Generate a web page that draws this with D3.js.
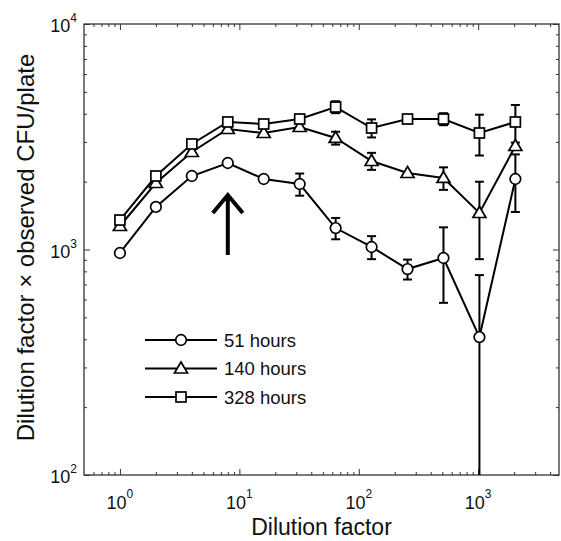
<!DOCTYPE html>
<html lang="en">
<head>
<meta charset="utf-8">
<title>Dilution factor vs CFU</title>
<script src="https://d3js.org/d3.v7.min.js"></script>
<style>
    body { margin: 0; background: #fff; }
    svg { display: block; }
    text { font-family: 'Liberation Sans', Arial, sans-serif; fill: #111; }
</style>
</head>
<body>
<svg id="chart"></svg>
<script>
    // data
    const dilution = [1, 2, 4, 8, 16, 32, 64, 128, 256, 512, 1024, 2048];
    const cfu51  = [965, 1544, 2118, 2419, 2054, 1952, 1245, 1026, 819, 917, 409, 2054];
    const sem51  = [0, 0, 0, 0, 0, 220, 135, 120, 83, 337, 361, 587];
    const cfu140 = [1271, 1972, 2706, 3422, 3286, 3493, 3123, 2469, 2184, 2076, 1452, 2877];
    const sem140 = [0, 0, 0, 0, 0, 0, 205, 214, 0, 238, 546, 0];
    const cfu328 = [1351, 2118, 2937, 3677, 3602, 3790, 4283, 3458, 3790, 3790, 3286, 3677];
    const sem328 = [0, 0, 0, 0, 0, 0, 260, 318, 0, 232, 675, 697];
    const seriesNames = ['51 hours', '140 hours', '328 hours'];
    const seriesShapes = ['circle', 'triangle', 'square'];

    const xTickExps = [0, 1, 2, 3];
    const yTickExps = [2, 3, 4];
    const arrowAt = { x: 8, from: 945, to: 1762 };

    const WIDTH = 561, HEIGHT = 541;
    const LEFT = 84, RIGHT = 559, TOP = 24, BOTTOM = 475;

    const svg = d3.select('#chart').attr('width', WIDTH).attr('height', HEIGHT);

    const x = d3.scaleLog().domain([0.5, 4750]).range([LEFT, RIGHT]);
    const y = d3.scaleLog().domain([100, 10000]).range([BOTTOM, TOP]);

    // tick values on a log axis
    const xMajor = xTickExps.map(e => Math.pow(10, e));
    const yMajor = yTickExps.map(e => Math.pow(10, e));
    function minorTicks(scale) {
        const [a, b] = scale.domain();
        const out = [];
        for (let k = -2; k <= 4; k++) {
            for (let m = 2; m <= 9; m++) {
                const v = m * Math.pow(10, k);
                if (v > a && v < b) out.push(v);
            }
        }
        return out;
    }

    const axes = svg.append('g').attr('class', 'axes');
    function addAxis(axisFn, scale, vals, size, tx, ty) {
        axes.append('g')
            .attr('transform', `translate(${tx},${ty})`)
            .call(axisFn(scale).tickValues(vals).tickSize(-size).tickSizeOuter(0).tickFormat(''))
            .call(g => g.select('.domain').remove())
            .call(g => g.selectAll('.tick line').attr('stroke', '#333').attr('stroke-width', 1));
    }
    addAxis(d3.axisBottom, x, xMajor, 6, 0, BOTTOM);
    addAxis(d3.axisBottom, x, minorTicks(x), 3, 0, BOTTOM);
    addAxis(d3.axisTop, x, xMajor, 6, 0, TOP);
    addAxis(d3.axisTop, x, minorTicks(x), 3, 0, TOP);
    addAxis(d3.axisLeft, y, yMajor, 6, LEFT, 0);
    addAxis(d3.axisLeft, y, minorTicks(y), 3, LEFT, 0);
    addAxis(d3.axisRight, y, yMajor, 6, RIGHT, 0);
    addAxis(d3.axisRight, y, minorTicks(y), 3, RIGHT, 0);

    axes.append('rect')
        .attr('x', LEFT).attr('y', TOP)
        .attr('width', RIGHT - LEFT).attr('height', BOTTOM - TOP)
        .attr('fill', 'none').attr('stroke', '#333').attr('stroke-width', 1.3);

    // tick labels 10^n
    xTickExps.forEach(e => {
        const t = axes.append('text')
            .attr('x', x(Math.pow(10, e))).attr('y', BOTTOM + 34)
            .attr('text-anchor', 'middle').style('font-size', '18px');
        t.append('tspan').text('10');
        t.append('tspan').attr('dy', -11).style('font-size', '12px').text(e);
    });
    yTickExps.forEach(e => {
        const t = axes.append('text')
            .attr('x', LEFT - 7).attr('y', y(Math.pow(10, e)) + 8)
            .attr('text-anchor', 'end').style('font-size', '18px');
        t.append('tspan').text('10');
        t.append('tspan').attr('dy', -10).style('font-size', '12px').text(e);
    });

    // axis titles
    svg.append('text')
        .attr('x', (LEFT + RIGHT) / 2).attr('y', 535)
        .attr('text-anchor', 'middle').style('font-size', '23px')
        .text('Dilution factor');
    svg.append('text')
        .attr('transform', `translate(34,${(TOP + BOTTOM) / 2 - 2}) rotate(-90)`)
        .attr('text-anchor', 'middle').style('font-size', '24px')
        .text('Dilution factor \u00d7 observed CFU/plate');

    // plot area
    svg.append('clipPath').attr('id', 'clip')
        .append('rect').attr('x', LEFT).attr('y', TOP)
        .attr('width', RIGHT - LEFT).attr('height', BOTTOM - TOP);
    const plot = svg.append('g').attr('clip-path', 'url(#clip)');

    const series = [cfu51, cfu140, cfu328].map((vals, i) => ({
        name: seriesNames[i],
        shape: seriesShapes[i],
        points: dilution.map((d, j) => ({ d: d, v: vals[j], e: [sem51, sem140, sem328][i][j] }))
    }));

    function marker(sel, shape) {
        if (shape === 'circle') {
            sel.append('circle').attr('r', 5.3);
        } else if (shape === 'square') {
            sel.append('rect').attr('x', -5).attr('y', -5).attr('width', 10).attr('height', 10);
        } else {
            sel.append('path').attr('d', 'M0,-6.5L6.5,4.5L-6.5,4.5Z');
        }
        sel.selectAll('circle,rect,path')
            .attr('fill', '#fff').attr('stroke', '#000').attr('stroke-width', 1.7);
    }

    const line = d3.line().x(p => x(p.d)).y(p => y(p.v));

    series.forEach(s => {
        const g = plot.append('g');
        g.append('path').datum(s.points)
            .attr('d', line)
            .attr('fill', 'none').attr('stroke', '#000').attr('stroke-width', 2);

        const errs = s.points.filter(p => p.e > 0);
        const eb = g.selectAll('g.err').data(errs).join('g').attr('class', 'err')
            .attr('stroke', '#000').attr('stroke-width', 2);
        eb.append('line')
            .attr('x1', p => x(p.d)).attr('x2', p => x(p.d))
            .attr('y1', p => y(p.v + p.e))
            .attr('y2', p => p.v - p.e > 0 ? y(p.v - p.e) : BOTTOM + 10);
        eb.append('line')
            .attr('x1', p => x(p.d) - 4.5).attr('x2', p => x(p.d) + 4.5)
            .attr('y1', p => y(p.v + p.e)).attr('y2', p => y(p.v + p.e));
        eb.filter(p => p.v - p.e > 0).append('line')
            .attr('x1', p => x(p.d) - 4.5).attr('x2', p => x(p.d) + 4.5)
            .attr('y1', p => y(p.v - p.e)).attr('y2', p => y(p.v - p.e));
    });

    series.forEach(s => {
        plot.append('g').selectAll('g.pt').data(s.points).join('g')
            .attr('class', 'pt')
            .attr('transform', p => `translate(${x(p.d)},${y(p.v)})`)
            .each(function() { marker(d3.select(this), s.shape); });
    });

    // arrow marking the peak
    const ax = x(arrowAt.x), ay1 = y(arrowAt.from), ay2 = y(arrowAt.to);
    plot.append('path')
        .attr('d', `M${ax},${ay1}L${ax},${ay2 + 2}M${ax - 15},${ay2 + 19}L${ax},${ay2 + 1}L${ax + 15},${ay2 + 19}`)
        .attr('fill', 'none').attr('stroke', '#000').attr('stroke-width', 4)
        .attr('stroke-linejoin', 'miter');

    // legend
    const legend = svg.append('g').attr('transform', 'translate(145,340)');
    series.forEach((s, i) => {
        const row = legend.append('g').attr('transform', `translate(0,${i * 28.5})`);
        row.append('line').attr('x1', 0).attr('x2', 72)
            .attr('stroke', '#000').attr('stroke-width', 2);
        const m = row.append('g').attr('transform', 'translate(36,0)');
        marker(m, s.shape);
        row.append('text').attr('x', 79).attr('dy', '0.36em')
            .style('font-size', '18.5px').text(s.name);
    });
</script>
</body>
</html>
